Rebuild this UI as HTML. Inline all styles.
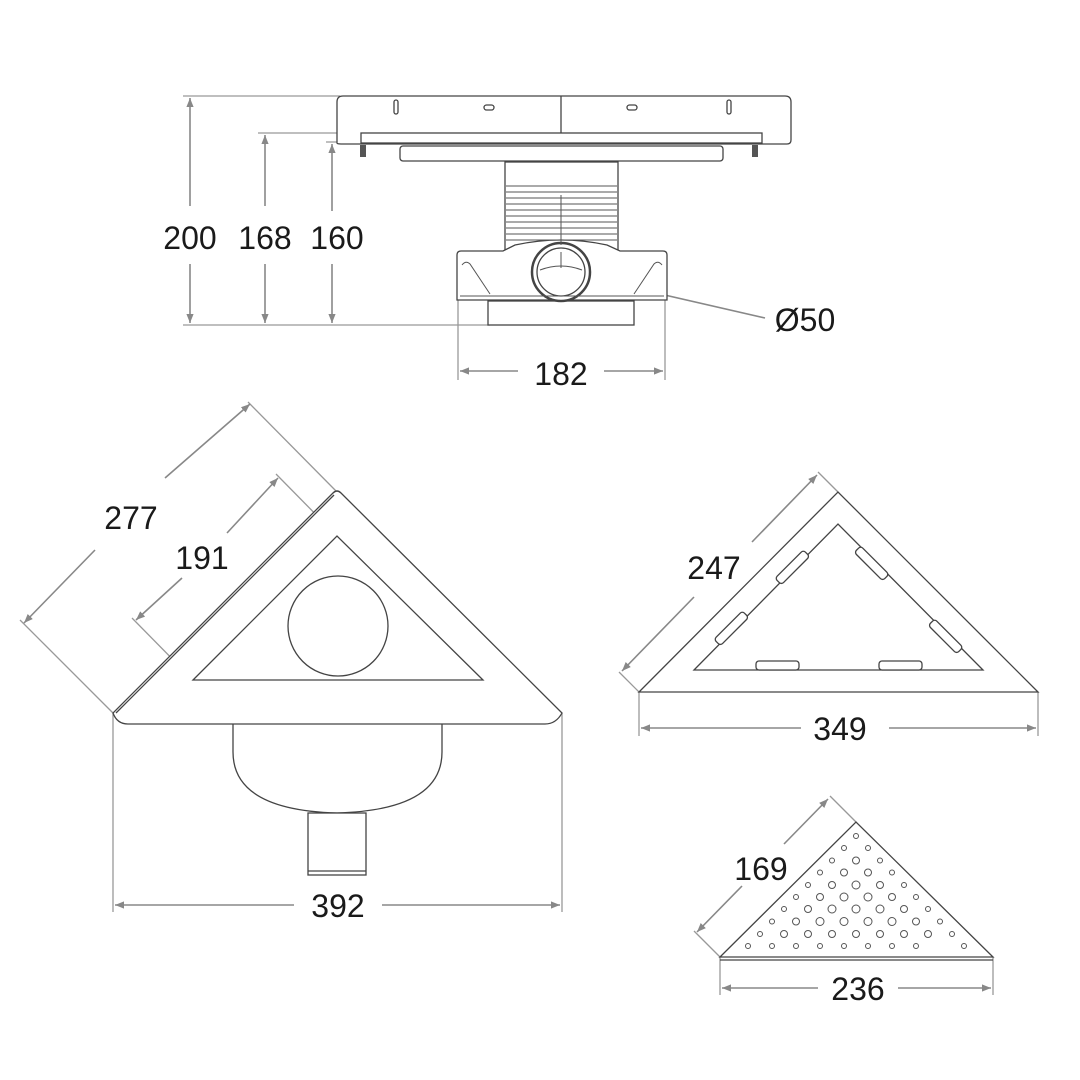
<!DOCTYPE html>
<html><head><meta charset="utf-8"><style>
html,body{margin:0;padding:0;background:#fff}
svg{display:block}
text{font-family:"Liberation Sans",Arial,sans-serif;font-size:32px;fill:#1a1a1a}
</style></head><body>
<svg width="1080" height="1080" viewBox="0 0 1080 1080" xmlns="http://www.w3.org/2000/svg">
<defs>
<marker id="a" viewBox="0 0 10 10" refX="10" refY="5" markerWidth="9" markerHeight="9" orient="auto-start-reverse" markerUnits="userSpaceOnUse"><path d="M0,1 L10,5 L0,9 z" fill="#888"/></marker>
</defs>
<g stroke="#999" stroke-width="1.3" fill="none">
<line x1="183" y1="96" x2="340" y2="96"/>
<line x1="258" y1="133" x2="362" y2="133"/>
<line x1="326" y1="142" x2="345" y2="142"/>
<line x1="183" y1="325" x2="490" y2="325"/>
<line x1="458" y1="290" x2="458" y2="380"/>
<line x1="665" y1="290" x2="665" y2="380"/>
</g>
<g stroke="#888" stroke-width="1.6" fill="none">
<line x1="190" y1="206" x2="190" y2="98" marker-end="url(#a)"/>
<line x1="190" y1="264" x2="190" y2="323" marker-end="url(#a)"/>
<line x1="265" y1="206" x2="265" y2="135" marker-end="url(#a)"/>
<line x1="265" y1="264" x2="265" y2="323" marker-end="url(#a)"/>
<line x1="332" y1="211" x2="332" y2="144" marker-end="url(#a)"/>
<line x1="332" y1="264" x2="332" y2="323" marker-end="url(#a)"/>
<line x1="518" y1="371" x2="460" y2="371" marker-end="url(#a)"/>
<line x1="604" y1="371" x2="663" y2="371" marker-end="url(#a)"/>
<line x1="765" y1="318" x2="556" y2="270" marker-end="url(#a)"/>
</g>
<text x="190" y="249" text-anchor="middle">200</text>
<text x="265" y="249" text-anchor="middle">168</text>
<text x="337" y="249" text-anchor="middle">160</text>
<text x="561" y="385" text-anchor="middle">182</text>
<text x="805" y="331" text-anchor="middle">Ø50</text>

<g stroke="#444" stroke-width="1.3" fill="#fff">
<path d="M337,143 L337,102 Q337,96 343,96 L785,96 Q791,96 791,102 L791,140 Q791,144 787,144 L341,144 Q337,144 337,143Z"/>
<rect x="361" y="133" width="401" height="10"/>
<line x1="561" y1="96" x2="561" y2="133"/>
<rect x="394" y="100" width="4" height="14" rx="2"/>
<rect x="727" y="100" width="4" height="14" rx="2"/>
<rect x="484" y="105" width="10" height="5" rx="2.5"/>
<rect x="627" y="105" width="10" height="5" rx="2.5"/>
<rect x="400" y="146" width="323" height="15" rx="3"/>
<rect x="505" y="162" width="113" height="88"/>
<path d="M457,300 L457,255 Q457,251 461,251 L503,251 L515,245 Q561,235 607,245 L620,251 L663,251 Q667,251 667,255 L667,300 Z"/>
<rect x="488" y="301" width="146" height="24"/>
<circle cx="561" cy="272" r="29" stroke-width="2.5"/>
<circle cx="561" cy="272" r="24"/>
</g>
<g stroke="#555" stroke-width="1" fill="none">
<line x1="506" y1="186" x2="617" y2="186"/><line x1="506" y1="192" x2="617" y2="192"/>
<line x1="506" y1="198" x2="617" y2="198"/><line x1="506" y1="204" x2="617" y2="204"/>
<line x1="506" y1="210" x2="617" y2="210"/><line x1="506" y1="216" x2="617" y2="216"/>
<line x1="506" y1="222" x2="617" y2="222"/><line x1="506" y1="228" x2="617" y2="228"/>
<line x1="506" y1="234" x2="617" y2="234"/><line x1="506" y1="240" x2="617" y2="240"/>
<line x1="561" y1="195" x2="561" y2="245"/>
<path d="M462,265 Q466,260 470,264 L490,294"/><path d="M662,265 Q658,260 654,264 L634,294"/>
<line x1="460" y1="296" x2="664" y2="296"/>
<line x1="561" y1="252" x2="561" y2="268"/>
<path d="M540,270 Q561,262 582,270"/>
</g>
<rect x="360" y="145" width="6" height="12" fill="#555"/>
<rect x="752" y="145" width="6" height="12" fill="#555"/>

<g stroke="#999" stroke-width="1.3" fill="none">
<line x1="113" y1="713" x2="113" y2="912"/>
<line x1="562" y1="713" x2="562" y2="912"/>
<line x1="113" y1="713" x2="20" y2="620"/>
<line x1="337" y1="492" x2="248" y2="402"/>
<line x1="193" y1="680" x2="132" y2="618"/>
<line x1="337" y1="536" x2="276" y2="474"/>
</g>
<g stroke="#888" stroke-width="1.6" fill="none">
<line x1="294" y1="905" x2="115" y2="905" marker-end="url(#a)"/>
<line x1="382" y1="905" x2="560" y2="905" marker-end="url(#a)"/>
<line x1="95" y1="550" x2="24" y2="623" marker-end="url(#a)"/>
<line x1="165" y1="478" x2="250" y2="404" marker-end="url(#a)"/>
<line x1="182" y1="578" x2="136" y2="620" marker-end="url(#a)"/>
<line x1="227" y1="533" x2="278" y2="478" marker-end="url(#a)"/>
</g>
<text x="338" y="917" text-anchor="middle">392</text>
<text x="131" y="529" text-anchor="middle">277</text>
<text x="202" y="569" text-anchor="middle">191</text>
<g stroke="#444" stroke-width="1.3" fill="#fff">
<path d="M233,724 L233,752 Q233,810 337,813 Q442,810 442,752 L442,724"/>
<rect x="308" y="813" width="58" height="62"/>
<line x1="308" y1="871" x2="366" y2="871"/>
<path d="M333,493 Q337,489 341,493 L562,713 Q556,724 545,724 L128,724 Q117,724 113,713 Z"/>
<path d="M116,713 L334,495" fill="none"/>
<path d="M193,680 L337,536 L483,680 Z"/>
<circle cx="338" cy="626" r="50"/>
</g>

<g stroke="#999" stroke-width="1.3" fill="none">
<line x1="639" y1="692" x2="639" y2="736"/>
<line x1="1038" y1="692" x2="1038" y2="736"/>
<line x1="639" y1="692" x2="619" y2="672"/>
<line x1="838" y1="492" x2="818" y2="472"/>
</g>
<g stroke="#888" stroke-width="1.6" fill="none">
<line x1="801" y1="728" x2="641" y2="728" marker-end="url(#a)"/>
<line x1="889" y1="728" x2="1036" y2="728" marker-end="url(#a)"/>
<line x1="694" y1="597" x2="622" y2="671" marker-end="url(#a)"/>
<line x1="752" y1="542" x2="817" y2="475" marker-end="url(#a)"/>
</g>
<text x="840" y="740" text-anchor="middle">349</text>
<text x="714" y="579" text-anchor="middle">247</text>
<g stroke="#444" stroke-width="1.3" fill="#fff">
<path d="M639,692 L838,492 L1038,692 Z"/>
<path d="M694,670 L838,524 L983,670 Z"/>
<rect x="756" y="661" width="43" height="9" rx="3"/>
<rect x="879" y="661" width="43" height="9" rx="3"/>
<g transform="translate(792,567) rotate(-45)"><rect x="-20" y="-4" width="40" height="9" rx="3"/></g>
<g transform="translate(731,628) rotate(-45)"><rect x="-20" y="-4" width="40" height="9" rx="3"/></g>
<g transform="translate(872,563) rotate(45)"><rect x="-20" y="-4" width="40" height="9" rx="3"/></g>
<g transform="translate(946,636) rotate(45)"><rect x="-20" y="-4" width="40" height="9" rx="3"/></g>
</g>

<g stroke="#999" stroke-width="1.3" fill="none">
<line x1="720" y1="957" x2="720" y2="995"/>
<line x1="993" y1="957" x2="993" y2="995"/>
<line x1="720" y1="957" x2="694" y2="931"/>
<line x1="856" y1="822" x2="830" y2="796"/>
</g>
<g stroke="#888" stroke-width="1.6" fill="none">
<line x1="818" y1="988" x2="722" y2="988" marker-end="url(#a)"/>
<line x1="898" y1="988" x2="991" y2="988" marker-end="url(#a)"/>
<line x1="742" y1="886" x2="697" y2="932" marker-end="url(#a)"/>
<line x1="784" y1="844" x2="828" y2="799" marker-end="url(#a)"/>
</g>
<text x="858" y="1000" text-anchor="middle">236</text>
<text x="761" y="880" text-anchor="middle">169</text>
<g stroke="#444" stroke-width="1.3" fill="#fff">
<path d="M720,957 L856,822 L993,957 Z"/>
<line x1="720" y1="960" x2="993" y2="960"/>
</g>
<g stroke="#555" stroke-width="1" fill="none">
<circle cx="856" cy="836" r="2.5"/>
<circle cx="844" cy="848" r="2.5"/><circle cx="868" cy="848" r="2.5"/>
<circle cx="832" cy="860.5" r="2.5"/><circle cx="856" cy="860.5" r="3.5"/><circle cx="880" cy="860.5" r="2.5"/>
<circle cx="820" cy="872.5" r="2.5"/><circle cx="844" cy="872.5" r="3.5"/><circle cx="868" cy="872.5" r="3.5"/><circle cx="892" cy="872.5" r="2.5"/>
<circle cx="808" cy="885" r="2.5"/><circle cx="832" cy="885" r="3.5"/><circle cx="856" cy="885" r="4"/><circle cx="880" cy="885" r="3.5"/><circle cx="904" cy="885" r="2.5"/>
<circle cx="796" cy="897" r="2.5"/><circle cx="820" cy="897" r="3.5"/><circle cx="844" cy="897" r="4"/><circle cx="868" cy="897" r="4"/><circle cx="892" cy="897" r="3.5"/><circle cx="916" cy="897" r="2.5"/>
<circle cx="784" cy="909" r="2.5"/><circle cx="808" cy="909" r="3.5"/><circle cx="832" cy="909" r="4"/><circle cx="856" cy="909" r="4"/><circle cx="880" cy="909" r="4"/><circle cx="904" cy="909" r="3.5"/><circle cx="928" cy="909" r="2.5"/>
<circle cx="772" cy="921.5" r="2.5"/><circle cx="796" cy="921.5" r="3.5"/><circle cx="820" cy="921.5" r="4"/><circle cx="844" cy="921.5" r="4"/><circle cx="868" cy="921.5" r="4"/><circle cx="892" cy="921.5" r="4"/><circle cx="916" cy="921.5" r="3.5"/><circle cx="940" cy="921.5" r="2.5"/>
<circle cx="760" cy="934" r="2.5"/><circle cx="784" cy="934" r="3.5"/><circle cx="808" cy="934" r="3.5"/><circle cx="832" cy="934" r="3.5"/><circle cx="856" cy="934" r="3.5"/><circle cx="880" cy="934" r="3.5"/><circle cx="904" cy="934" r="3.5"/><circle cx="928" cy="934" r="3.5"/><circle cx="952" cy="934" r="2.5"/>
<circle cx="748" cy="946" r="2.5"/><circle cx="772" cy="946" r="2.5"/><circle cx="796" cy="946" r="2.5"/><circle cx="820" cy="946" r="2.5"/><circle cx="844" cy="946" r="2.5"/><circle cx="868" cy="946" r="2.5"/><circle cx="892" cy="946" r="2.5"/><circle cx="916" cy="946" r="2.5"/><circle cx="964" cy="946" r="2.5"/>
</g>
</svg>
</body></html>
